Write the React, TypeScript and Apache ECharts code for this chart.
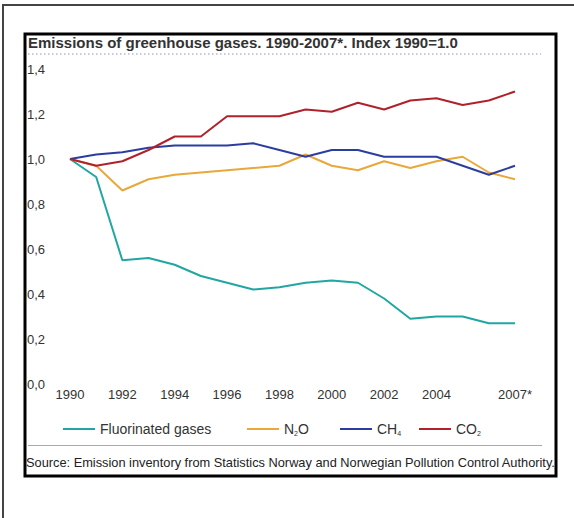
import React, { useEffect, useRef } from "react";
import * as echarts from "echarts";

const years = ["1990","1991","1992","1993","1994","1995","1996","1997","1998","1999","2000","2001","2002","2003","2004","2005","2006","2007*"];
const fluorinated = [1.0,0.92,0.55,0.56,0.53,0.48,0.45,0.42,0.43,0.45,0.46,0.45,0.38,0.29,0.30,0.30,0.27,0.27];
const n2o = [1.0,0.97,0.86,0.91,0.93,0.94,0.95,0.96,0.97,1.02,0.97,0.95,0.99,0.96,0.99,1.01,0.94,0.91];
const ch4 = [1.0,1.02,1.03,1.05,1.06,1.06,1.06,1.07,1.04,1.01,1.04,1.04,1.01,1.01,1.01,0.97,0.93,0.97];
const co2 = [1.0,0.97,0.99,1.04,1.10,1.10,1.19,1.19,1.19,1.22,1.21,1.25,1.22,1.26,1.27,1.24,1.26,1.30];
const shownLabelIdx = [0,2,4,6,8,10,12,14,17];

const seriesNames = ["Fluorinated gases","N2O","CH4","CO2"];
const seriesColors = ["#22a6a2","#e8a83a","#2b3d9f","#b0222b"];
const legendLeft = [63,247,340,419];

const FONT = "'Liberation Sans', Arial, sans-serif";

export default function App() {
  const ref = useRef<HTMLDivElement>(null);
  useEffect(() => {
    const chart = echarts.init(ref.current!, null, { renderer: "svg" });
    const data = [fluorinated, n2o, ch4, co2];
    const legendFmt = (name: string) => {
      if (name === "N2O") return "{a|N}{s|2}{a|O}";
      if (name === "CH4") return "{a|CH}{s|4}";
      if (name === "CO2") return "{a|CO}{s|2}";
      return "{a|" + name + "}";
    };
    chart.setOption({
      animation: false,
      backgroundColor: "#ffffff",
      title: {
        text: "Emissions of greenhouse gases. 1990-2007*. Index 1990=1.0",
        left: 28,
        top: 35,
        padding: 0,
        textStyle: { fontFamily: FONT, fontSize: 15, fontWeight: "bold", color: "#333333" },
      },
      grid: { left: 70, right: 59, top: 69, bottom: 134 },
      xAxis: {
        type: "category",
        data: years,
        boundaryGap: false,
        axisLine: { show: false },
        axisTick: { show: false },
        splitLine: { show: false },
        axisLabel: {
          interval: (i: number) => shownLabelIdx.indexOf(i) >= 0,
          margin: 4,
          fontFamily: FONT,
          fontSize: 13,
          color: "#333333",
        },
      },
      yAxis: {
        type: "value",
        min: 0,
        max: 1.4,
        interval: 0.2,
        axisLine: { show: false },
        axisTick: { show: false },
        splitLine: { show: false },
        axisLabel: {
          align: "left",
          margin: 43,
          fontFamily: FONT,
          fontSize: 13,
          color: "#333333",
          formatter: (v: number) => v.toFixed(1).replace(".", ","),
        },
      },
      legend: seriesNames.map((n, i) => ({
        data: [n],
        left: legendLeft[i],
        top: 422,
        padding: 0,
        icon: "rect",
        itemWidth: 32,
        itemHeight: 2,
        formatter: legendFmt,
        textStyle: {
          color: "#333333",
          rich: {
            a: { fontFamily: FONT, fontSize: 14, color: "#333333", lineHeight: 16 },
            s: { fontFamily: FONT, fontSize: 7, color: "#333333", lineHeight: 16, verticalAlign: "bottom", padding: [6, 0, 0, 0] },
          },
        },
      })),
      graphic: [
        { type: "rect", shape: { x: 3, y: 5, width: 700, height: 700 }, style: { fill: "none", stroke: "#444444", lineWidth: 2 }, silent: true },
        { type: "rect", shape: { x: 25, y: 34, width: 531, height: 442 }, style: { fill: "none", stroke: "#000000", lineWidth: 3 }, silent: true },
        { type: "line", shape: { x1: 28, y1: 54, x2: 541, y2: 54 }, style: { stroke: "#b4b4e0", lineWidth: 1.5, lineDash: [1.5, 2.5] }, silent: true },
        { type: "line", shape: { x1: 28, y1: 445.5, x2: 542, y2: 445.5 }, style: { stroke: "#aaaaaa", lineWidth: 1 }, silent: true },
        {
          type: "text",
          x: 26,
          y: 462,
          style: {
            text: "Source: Emission inventory from Statistics Norway and Norwegian Pollution Control Authority.",
            fontFamily: FONT,
            fontSize: 12.8,
            fill: "#222222",
            textVerticalAlign: "middle",
          },
          silent: true,
        },
      ],
      series: seriesNames.map((n, i) => ({
        name: n,
        type: "line",
        data: data[i],
        symbol: "none",
        lineStyle: { color: seriesColors[i], width: 2 },
        itemStyle: { color: seriesColors[i] },
      })),
    });
    return () => chart.dispose();
  }, []);
  return <div ref={ref} style={{ position: "fixed", left: 0, top: 0, width: 574, height: 518 }} />;
}
